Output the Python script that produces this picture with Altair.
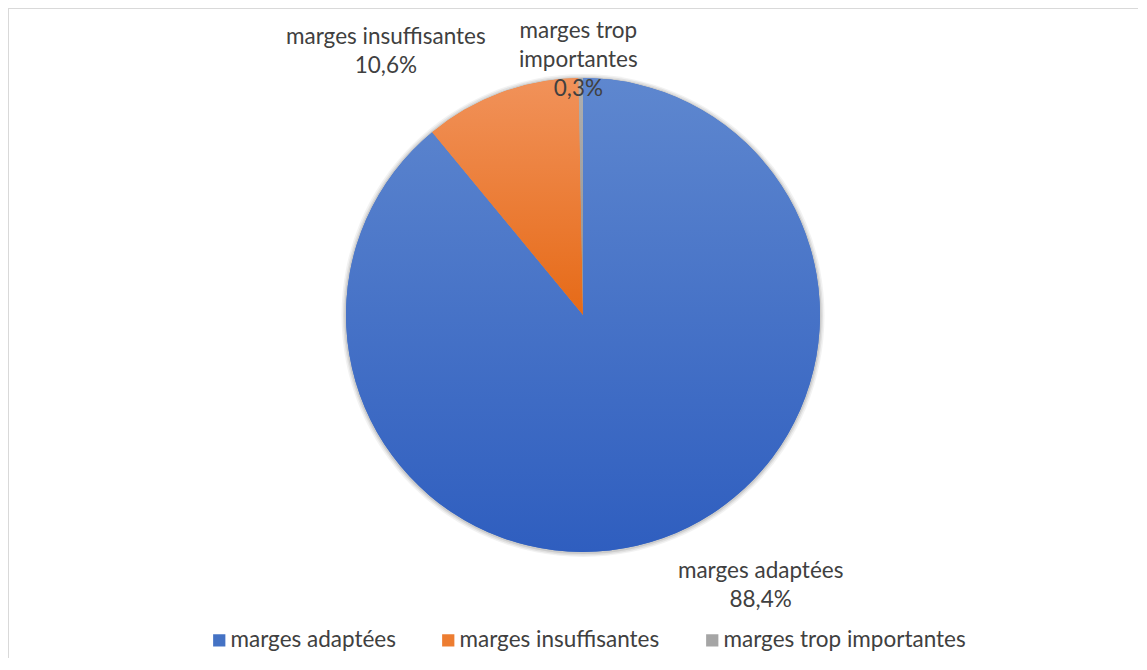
import math
import altair as alt
import pandas as pd

categories = ["marges adaptées", "marges insuffisantes", "marges trop importantes"]
values = [88.4, 10.6, 0.3]
label_names = ["marges adaptées", "marges insuffisantes", "marges trop\nimportantes"]
solid_colors = ["#4472C4", "#ED7D31", "#A5A5A5"]
grad_top = ["#5E87CF", "#F1925A", "#B0B0B0"]
grad_bottom = ["#2F5EBF", "#E66A17", "#8F8F8F"]

labels = [f"{n}\n{v:.1f}%".replace(".", ",") for n, v in zip(label_names, values)]
df = pd.DataFrame({
    "cat": categories,
    "value": values,
    "order": list(range(len(categories))),
    "label": labels,
})

W, H = 1130, 650
CX, CY, R = 575, 307, 237
FONT = "Lato"
FS = 22.5
TXT = "#404040"

base = alt.Chart(df).transform_joinaggregate(
    total="sum(value)"
).transform_window(
    cum="sum(value)", sort=[alt.SortField("order")]
).transform_calculate(
    t0="(datum.cum - datum.value) / datum.total * 2 * PI",
    t1="datum.cum / datum.total * 2 * PI",
    tm="(datum.cum - datum.value / 2) / datum.total * 2 * PI",
)

# soft shadow around the pie
shadow_layers = []
for extra, op in [(4.5, 0.10), (3, 0.14), (1.5, 0.22)]:
    shadow_layers.append(
        alt.Chart(df).transform_aggregate(total="sum(value)").mark_arc(
            outerRadius=R + extra, color="#7f7f7f", opacity=op
        ).encode(
            theta=alt.value(0), theta2=alt.value(2 * math.pi),
            x=alt.value(CX), y=alt.value(CY + 0.5),
        )
    )

legend_layer = base.mark_arc(outerRadius=R).encode(
    theta=alt.Theta("t0:Q", scale=None),
    theta2="t1:Q",
    x=alt.value(CX), y=alt.value(CY),
    color=alt.Color(
        "cat:N",
        scale=alt.Scale(domain=categories, range=solid_colors),
        legend=alt.Legend(
            orient="none", legendX=200, legendY=621, direction="horizontal",
            title=None, symbolType="square", symbolSize=150,
            labelFontSize=FS, labelFont=FONT, labelColor=TXT, labelLimit=0,
            columnPadding=41, labelOffset=0, symbolStrokeWidth=0,
        ),
    ),
)

layers = shadow_layers + [legend_layer]
for i, c in enumerate(categories):
    grad = alt.LinearGradient(
        gradient="linear", x1=0, y1=0, x2=0, y2=1,
        stops=[alt.GradientStop(color=grad_top[i], offset=0),
               alt.GradientStop(color=grad_bottom[i], offset=1)],
    )
    layers.append(
        base.transform_filter(alt.datum.cat == c).mark_arc(outerRadius=R).encode(
            theta=alt.Theta("t0:Q", scale=None),
            theta2="t1:Q",
            x=alt.value(CX), y=alt.value(CY),
            color=alt.value(grad),
        )
    )

offsets = [(83, -8), (-100, -15), (-2, -4)]
for i, c in enumerate(categories):
    dx, dy = offsets[i]
    layers.append(
        base.transform_filter(alt.datum.cat == c).mark_text(
            radius=280, fontSize=FS, font=FONT, color=TXT, lineBreak="\n",
            lineHeight=29, align="center", baseline="middle", dx=dx, dy=dy,
        ).encode(
            theta=alt.Theta("tm:Q", scale=None),
            x=alt.value(CX), y=alt.value(CY),
            text="label:N",
        )
    )

frame_top = alt.Chart(df).mark_rule(color="#d9d9d9", strokeWidth=1).encode(
    x=alt.value(0.5), x2=alt.value(W), y=alt.value(0.5)
)
frame_left = alt.Chart(df).mark_rule(color="#d9d9d9", strokeWidth=1).encode(
    x=alt.value(0.5), y=alt.value(0.5), y2=alt.value(H)
)
layers = [frame_top, frame_left] + layers

chart = alt.layer(*layers).properties(
    width=W, height=H, padding=0,
    autosize=alt.AutoSizeParams(type="fit", contains="padding"),
).configure_view(stroke=None)

chart.save("out.html", embed_options={"renderer": "svg", "actions": False})
